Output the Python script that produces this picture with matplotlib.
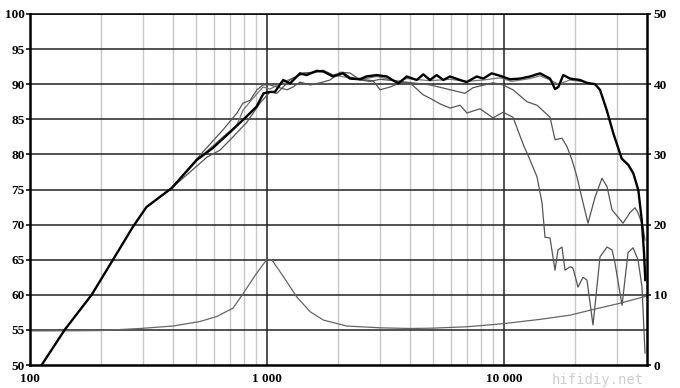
import matplotlib.pyplot as plt
from matplotlib.ticker import FixedLocator, NullFormatter

# Frequency response (dB) - on-axis, thick
f_axis = [112, 140, 182, 224, 272, 310, 396, 505, 590, 700, 820, 903, 967, 1030, 1080,
          1170, 1250, 1378, 1470, 1620, 1730, 1900, 2090, 2240, 2470, 2620, 2900, 3200,
          3580, 3886, 4281, 4565, 4873, 5200, 5546, 5918, 6520, 6960, 7670, 8180, 8870,
          9620, 10600, 11680, 12880, 14190, 15640, 16420, 16950, 17790, 18990, 20930,
          22340, 24210, 25410, 27130, 28920, 31380, 33460, 35130, 36880, 38110, 38970, 39460]
db_axis = [50.0, 55.0, 60.0, 65.0, 69.7, 72.5, 75.2, 79.2, 80.9, 83.2, 85.4, 86.8, 88.7, 88.9, 88.9,
           90.6, 90.1, 91.55, 91.3, 91.9, 91.8, 91.1, 91.55, 90.8, 90.7, 91.1, 91.3, 91.1,
           90.1, 91.1, 90.6, 91.4, 90.6, 91.3, 90.6, 91.1, 90.6, 90.3, 91.1, 90.8, 91.55,
           91.2, 90.7, 90.8, 91.1, 91.55, 90.8, 89.3, 89.6, 91.3, 90.8, 90.6,
           90.2, 90.0, 89.2, 86.3, 83.0, 79.4, 78.5, 77.3, 74.9, 70.7, 66.0, 62.1]

# off-axis curve A
f_a = [396, 522, 652, 747, 792, 848, 907, 962, 1030, 1102, 1214, 1287, 1378, 1519, 1674,
       1845, 2032, 2240, 2469, 2720, 3000, 3641, 4873, 6846, 7400, 8987, 9904, 10914,
       12503, 13783, 15636, 16414, 17560, 18440, 19360, 20320, 20930, 22610, 24210, 25910,
       27210, 28560, 31780, 34010, 35700, 36760, 38590, 39340]
db_a = [75.2, 79.9, 83.5, 85.9, 87.3, 87.7, 89.2, 89.9, 89.9, 89.6, 89.2, 89.6, 90.3, 89.9, 90.2,
        90.6, 91.7, 91.6, 90.6, 90.4, 90.7, 90.4, 89.9, 88.7, 89.5, 90.2, 89.9, 89.2,
        87.5, 87.0, 85.3, 82.1, 82.3, 81.1, 79.2, 76.8, 74.9, 70.2, 73.9, 76.6,
        75.4, 72.1, 70.2, 71.7, 72.4, 71.7, 69.7, 67.8]

# off-axis curve B
f_b = [396, 558, 633, 719, 823, 934, 1030, 1102, 1250, 1419, 1564, 1723, 1899, 2093, 2240,
       2469, 2801, 3000, 3304, 3641, 4012, 4553, 4873, 5370, 5918, 6521, 6981, 7920, 8987,
       9904, 10914, 12027, 12876, 13783, 14467, 14894, 15636, 16414, 16898, 17560, 18090,
       18990, 19550, 20520, 21540, 22390, 23740, 25410, 27210, 28560, 29400, 31480, 33360,
       35030, 36760, 38220, 39340]
db_b = [75.2, 79.6, 80.6, 82.5, 84.6, 87.3, 88.9, 88.7, 90.6, 91.6, 91.7, 92.0, 91.3, 91.7, 91.0,
        90.7, 90.5, 89.2, 89.6, 90.2, 90.2, 88.5, 88.0, 87.2, 86.6, 87.0, 85.9, 86.5, 85.2,
        86.0, 85.3, 81.5, 79.2, 76.8, 73.1, 68.2, 68.1, 63.5, 66.4, 66.8, 63.5,
        64.0, 63.8, 61.1, 62.5, 62.1, 55.7, 65.4, 66.8, 66.4, 64.5, 58.5, 66.0,
        66.7, 65.0, 61.1, 51.7]

# off-axis curve C (close to the on-axis one)
f_c = [396, 506, 652, 747, 792, 873, 962, 1030, 1170, 1378, 1620, 1730, 1900, 2240, 2620,
       2900, 3580, 3886, 4873, 5918, 6960, 8180, 9620, 10780, 12880, 14190, 15640, 16950,
       18990, 20930]
db_c = [75.2, 79.2, 82.5, 84.2, 86.3, 88.0, 89.6, 89.3, 90.3, 91.3, 91.7, 91.9, 91.3, 90.9, 90.8,
        91.1, 90.4, 90.8, 90.5, 90.7, 90.4, 90.6, 90.9, 90.4, 90.8, 91.2, 90.6, 90.0,
        90.6, 90.4]

# impedance (ohm, right axis)
f_imp = [100, 197, 291, 401, 522, 613, 719, 794, 905, 997, 1047, 1172, 1335, 1519, 1729,
         2169, 3000, 4012, 5017, 6981, 7920, 10000, 14190, 18990, 23070, 30870, 39800]
z_imp = [4.85, 4.9, 5.2, 5.55, 6.2, 6.9, 8.1, 10.2, 13.1, 15.0, 15.0, 12.6, 9.7, 7.6, 6.4,
         5.55, 5.3, 5.2, 5.25, 5.45, 5.6, 5.9, 6.5, 7.1, 7.8, 8.8, 9.8]

xticks = [100, 1000, 10000]
xtick_labels = ['100', '1 000', '10 000']
minor_x = [200, 300, 400, 500, 600, 700, 800, 900,
           2000, 3000, 4000, 5000, 6000, 7000, 8000, 9000, 20000, 30000]

lab_font = {'family': 'Liberation Serif', 'weight': 'bold', 'size': 9.5}

fig = plt.figure(figsize=(6.8, 3.88), dpi=100)
ax = fig.add_axes([30 / 680, 23 / 388, 616.7 / 680, 351 / 388])
ax.set_xscale('log')
ax.set_xlim(100, 40000)
ax.set_ylim(50, 100)

# grid
for f in minor_x:
    ax.axvline(f, color='#c8c8c8', lw=1.0, zorder=0)
for f in [1000, 10000]:
    ax.axvline(f, color='#222222', lw=1.1, zorder=0.5)
for v in range(55, 101, 5):
    ax.axhline(v, color='#222222', lw=1.1, zorder=0.5)

ax.plot(f_imp, [z + 50 for z in z_imp], color='#666666', lw=0.9, zorder=2)
ax.plot(f_c, db_c, color='#777777', lw=0.9, zorder=2)
ax.plot(f_b, db_b, color='#555555', lw=0.9, zorder=2)
ax.plot(f_a, db_a, color='#555555', lw=0.9, zorder=2)
ax.plot(f_axis, db_axis, color='black', lw=1.7, zorder=3)

ax.xaxis.set_major_locator(FixedLocator(xticks))
ax.set_xticklabels(xtick_labels, fontdict=lab_font)
ax.xaxis.set_minor_locator(FixedLocator(minor_x))
ax.xaxis.set_minor_formatter(NullFormatter())
ax.tick_params(axis='x', which='both', length=0, pad=6)
ax.set_yticks(range(50, 101, 5))
ax.set_yticklabels([str(v) for v in range(50, 101, 5)], fontdict=lab_font)
ax.tick_params(axis='y', length=3, width=1.1, pad=1)

for s in ['left', 'bottom', 'right']:
    ax.spines[s].set_linewidth(1.8)
ax.spines['top'].set_linewidth(1.1)

ax2 = ax.twinx()
ax2.set_ylim(0, 50)
ax2.set_yticks(range(0, 51, 10))
ax2.set_yticklabels([str(v) for v in range(0, 51, 10)], fontdict=lab_font)
ax2.tick_params(axis='y', length=3, width=1.1, pad=2)
for s in ax2.spines.values():
    s.set_visible(False)

fig.text(598 / 680, 1 - 380 / 388, 'hifidiy.net', fontsize=10, color='#cfcfcf',
         family='DejaVu Sans Mono', ha='center', va='center')

fig.savefig('out.png', dpi=100)
